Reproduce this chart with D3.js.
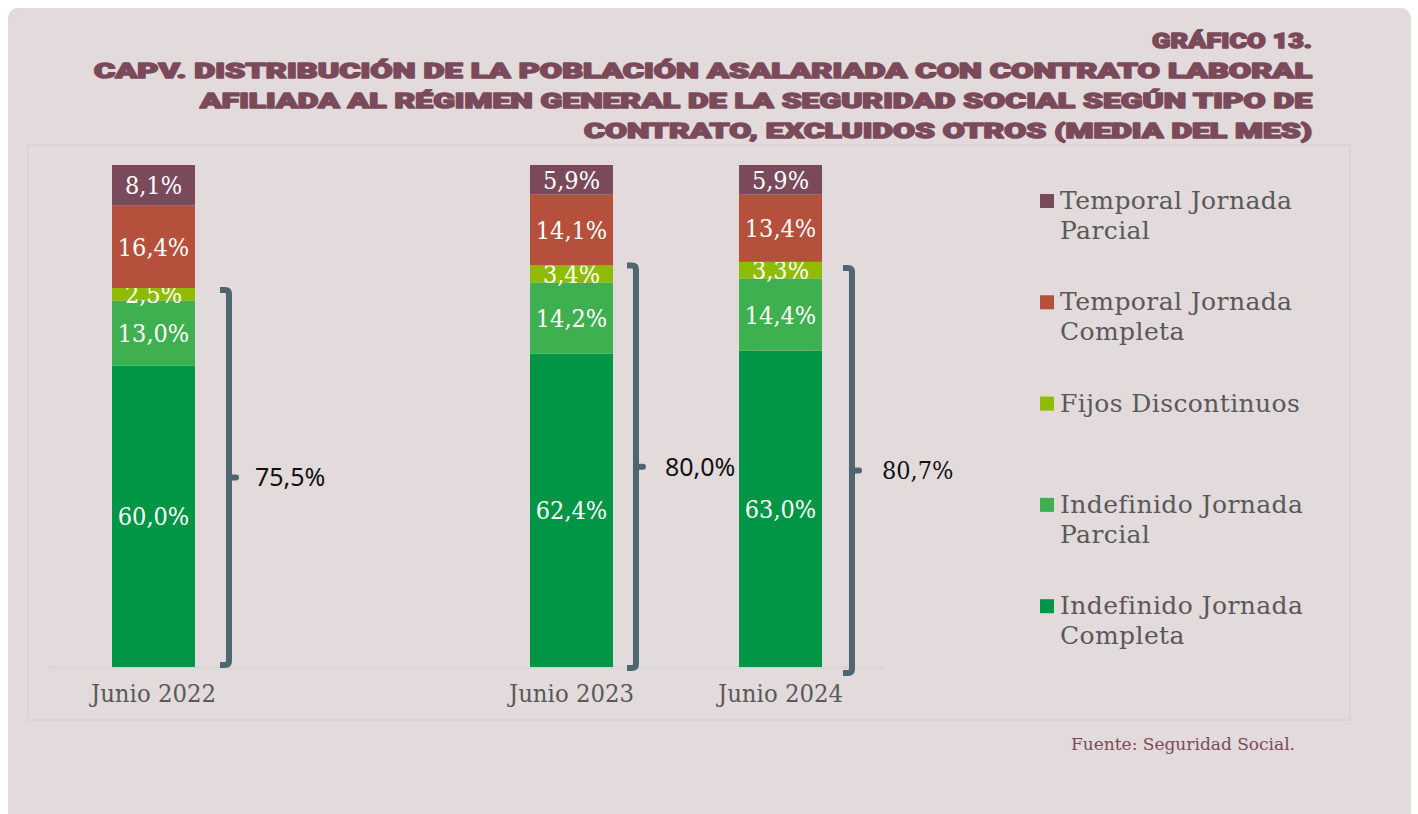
<!DOCTYPE html>
<html>
<head>
<meta charset="utf-8">
<script src="https://cdn.jsdelivr.net/npm/d3@7"></script>
<style>
  body { margin: 0; background: #ffffff; }
  svg { display: block; }
  .serif { font-family: "DejaVu Serif", serif; font-stretch: condensed; }
  .serifwide { font-family: "DejaVu Serif", serif; }
  .sans { font-family: "Noto Sans", sans-serif; }
</style>
</head>
<body>
<svg id="chart"></svg>
<script>
// categories (the blank one is the gap between 2022 and 2023)
var categories = ["Junio 2022", "gap", "Junio 2023", "Junio 2024"]
var years = ["Junio 2022", "Junio 2023", "Junio 2024"]

// series, bottom to top of the stack
var seriesNames = ["Indefinido Jornada Completa", "Indefinido Jornada Parcial",
    "Fijos Discontinuos", "Temporal Jornada Completa", "Temporal Jornada Parcial"]
var indefCompleta = [60.0, 62.4, 63.0]
var indefParcial = [13.0, 14.2, 14.4]
var fijos = [2.5, 3.4, 3.3]
var tempCompleta = [16.4, 14.1, 13.4]
var tempParcial = [8.1, 5.9, 5.9]

// bracket totals (indefinidos + fijos discontinuos)
var bracketTotals = [75.5, 80.0, 80.7]

var legendLines = [
    ["Temporal Jornada", "Parcial"],
    ["Temporal Jornada", "Completa"],
    ["Fijos Discontinuos"],
    ["Indefinido Jornada", "Parcial"],
    ["Indefinido Jornada", "Completa"]
]

var titleLines = [
    "GRÁFICO 13.",
    "CAPV. DISTRIBUCIÓN DE LA POBLACIÓN ASALARIADA CON CONTRATO LABORAL",
    "AFILIADA AL RÉGIMEN GENERAL DE LA SEGURIDAD SOCIAL SEGÚN TIPO DE",
    "CONTRATO, EXCLUIDOS OTROS (MEDIA DEL MES)"
]

var colors = {
    "Indefinido Jornada Completa": "#009645",
    "Indefinido Jornada Parcial": "#3fb050",
    "Fijos Discontinuos": "#8fbb00",
    "Temporal Jornada Completa": "#b5503c",
    "Temporal Jornada Parcial": "#7b4a5a"
}

var screen = { width: 1418, height: 814 }

var svg = d3.select("#chart")
    .attr("width", screen.width)
    .attr("height", screen.height)

// card background
svg.append("rect")
    .attr("x", 9).attr("y", 9)
    .attr("width", 1402).attr("height", 820)
    .attr("rx", 10)
    .attr("fill", "#ece6e7")
svg.append("rect")
    .attr("x", 8).attr("y", 8)
    .attr("width", 1403).attr("height", 820)
    .attr("rx", 10)
    .attr("fill", "#e2dadb")

// inner plot frame
svg.append("rect")
    .attr("x", 28).attr("y", 145)
    .attr("width", 1322).attr("height", 575)
    .attr("fill", "none")
    .attr("stroke", "#d8d5d5")
    .attr("stroke-width", 2)

// title
var titleWidths = [160, 1218, 1112, 728]
svg.append("g")
    .selectAll("text")
    .data(titleLines)
    .enter()
    .append("text")
    .attr("x", 1312)
    .attr("y", function (d, i) { return 48 + i * 30 })
    .attr("text-anchor", "end")
    .attr("textLength", function (d, i) { return titleWidths[i] })
    .attr("lengthAdjust", "spacingAndGlyphs")
    .attr("font-family", "Roboto, sans-serif")
    .attr("font-weight", 900)
    .attr("font-size", 21)
    .attr("fill", "#7b4a5a")
    .attr("stroke", "#7b4a5a")
    .attr("stroke-width", 1.5)
    .attr("stroke-linejoin", "round")
    .text(function (d) { return d })

// scales
var xScale = d3.scaleBand()
    .domain(categories)
    .range([49, 885])
    .paddingInner(0.603)
    .paddingOuter(0.3015)

var yScale = d3.scaleLinear()
    .domain([0, 100])
    .range([667, 165])

// stacked data
var table = years.map(function (yr, i) {
    return {
        year: yr,
        "Indefinido Jornada Completa": indefCompleta[i],
        "Indefinido Jornada Parcial": indefParcial[i],
        "Fijos Discontinuos": fijos[i],
        "Temporal Jornada Completa": tempCompleta[i],
        "Temporal Jornada Parcial": tempParcial[i]
    }
})
var stacked = d3.stack().keys(seriesNames)(table)

// axis line and labels
var xAxis = d3.axisBottom(xScale)
    .tickSize(0)
    .tickPadding(18)
    .tickFormat(function (d) { return d == "gap" ? "" : d })

var axisG = svg.append("g")
    .attr("transform", "translate(0," + yScale(0) + ")")
    .call(xAxis)
axisG.select(".domain")
    .attr("stroke", "#d6d3d3")
    .attr("stroke-width", 2)
axisG.selectAll(".tick text")
    .attr("class", "serif")
    .attr("font-size", 24)
    .attr("fill", "#595959")
    .attr("textLength", function (d) { return d == "gap" ? null : 125 })
    .attr("lengthAdjust", "spacingAndGlyphs")

// bars
var layers = svg.append("g")
    .selectAll("g")
    .data(stacked)
    .enter()
    .append("g")
    .attr("fill", function (s) { return colors[s.key] })

layers.selectAll("rect")
    .data(function (s) { return s })
    .enter()
    .append("rect")
    .attr("x", function (d) { return xScale(d.data.year) })
    .attr("width", xScale.bandwidth())
    .attr("y", function (d) { return yScale(d[1]) })
    .attr("height", function (d) { return yScale(d[0]) - yScale(d[1]) })

var fmt = function (v) { return d3.format(".1f")(v).replace(".", ",") + "%" }

layers.selectAll("text")
    .data(function (s) { return s })
    .enter()
    .append("text")
    .attr("class", "serif")
    .attr("x", function (d) { return xScale(d.data.year) + xScale.bandwidth() / 2 })
    .attr("y", function (d) { return (yScale(d[0]) + yScale(d[1])) / 2 })
    .attr("dy", "0.36em")
    .attr("text-anchor", "middle")
    .attr("font-size", 25)
    .attr("fill", "#ffffff")
    .text(function (d) { return fmt(d[1] - d[0]) })

// brackets (hand placed in the original, offsets kept here)
var bracketDx = [34, 23, 30]
var bracketDyTop = [2, 0, 6]
var bracketDyBot = [-2, 1, 6]
var bracketLabelDx = [26, 29, 30]
var bracketClass = ["sans", "sans", "serif"]

var brackets = svg.append("g")
    .selectAll("g")
    .data(years)
    .enter()
    .append("g")

brackets.append("path")
    .attr("fill", "none")
    .attr("stroke", "#4f6671")
    .attr("stroke-width", 6)
    .attr("d", function (yr, i) {
        var x = xScale(yr) + xScale.bandwidth() + bracketDx[i]
        var top = yScale(bracketTotals[i]) + bracketDyTop[i]
        var bot = yScale(0) + bracketDyBot[i]
        return "M" + (x - 9) + "," + top + "H" + (x - 4) +
            "Q" + x + "," + top + " " + x + "," + (top + 4) +
            "V" + (bot - 4) +
            "Q" + x + "," + bot + " " + (x - 4) + "," + bot +
            "H" + (x - 9)
    })

brackets.append("path")
    .attr("fill", "none")
    .attr("stroke", "#4f6671")
    .attr("stroke-width", 6)
    .attr("stroke-linecap", "round")
    .attr("d", function (yr, i) {
        var x = xScale(yr) + xScale.bandwidth() + bracketDx[i]
        var mid = (yScale(bracketTotals[i]) + bracketDyTop[i] + yScale(0) + bracketDyBot[i]) / 2
        return "M" + x + "," + mid + "H" + (x + 7)
    })

brackets.append("text")
    .attr("class", function (yr, i) { return bracketClass[i] })
    .attr("x", function (yr, i) { return xScale(yr) + xScale.bandwidth() + bracketDx[i] + bracketLabelDx[i] })
    .attr("y", function (yr, i) { return (yScale(bracketTotals[i]) + bracketDyTop[i] + yScale(0) + bracketDyBot[i]) / 2 })
    .attr("dy", "0.36em")
    .attr("font-size", 25)
    .attr("fill", "#111111")
    .text(function (yr, i) { return fmt(bracketTotals[i]) })

// legend
var legend = svg.append("g")
    .attr("transform", "translate(1040,194)")

var entries = legend.selectAll("g")
    .data(legendLines)
    .enter()
    .append("g")
    .attr("transform", function (d, i) { return "translate(0," + (i * 101.3) + ")" })

entries.append("rect")
    .attr("width", 14)
    .attr("height", 14)
    .attr("fill", function (d, i) { return colors[seriesNames[seriesNames.length - 1 - i]] })

entries.append("text")
    .attr("class", "serifwide")
    .attr("font-size", 25)
    .attr("letter-spacing", 0.4)
    .attr("fill", "#595959")
    .selectAll("tspan")
    .data(function (d) { return d })
    .enter()
    .append("tspan")
    .attr("x", 20)
    .attr("y", function (d, j) { return 15 + j * 30 })
    .text(function (d) { return d })

// source
svg.append("text")
    .attr("class", "serifwide")
    .attr("x", 1071)
    .attr("y", 750)
    .attr("font-size", 17)
    .attr("fill", "#7b4a5a")
    .text("Fuente: Seguridad Social.")
</script>
</body>
</html>
